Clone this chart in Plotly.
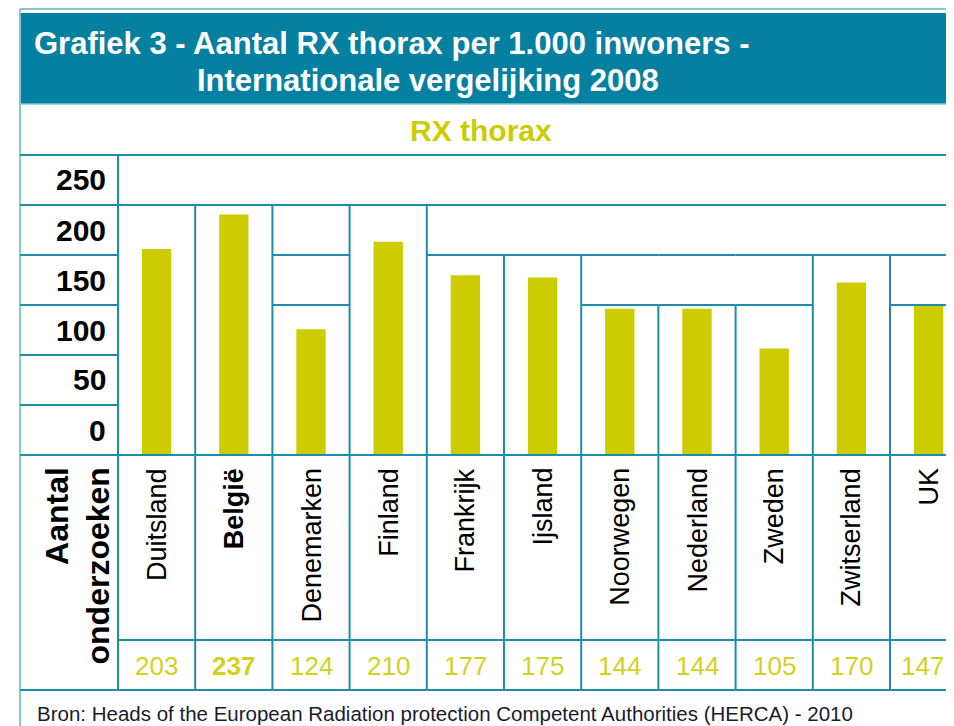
import plotly.graph_objects as go

# ---------------- data ----------------
countries = ["Duitsland", "België", "Denemarken", "Finland", "Frankrijk", "Ijsland",
             "Noorwegen", "Nederland", "Zweden", "Zwitserland", "UK"]
values = [203, 237, 124, 210, 177, 175, 144, 144, 105, 170, 147]
highlight = "België"
row_labels = ["250", "200", "150", "100", "50", "0"]
title_line1 = "Grafiek 3 - Aantal RX thorax per 1.000 inwoners -"
title_line2 = "Internationale vergelijking 2008"
subtitle = "RX thorax"
row_header = "Aantal<br>onderzoeken"
source = "Bron: Heads of the European Radiation protection Competent Authorities (HERCA) - 2010"

# ---------------- layout geometry (page pixels) ----------------
PAGE_W, PAGE_H = 954, 726
OFFSET = 8                       # default page margin of the html body
FIG_W, FIG_H = PAGE_W - 2 * OFFSET, PAGE_H - OFFSET
BASE_PX = 455                    # page row of value 0
PX_PER_UNIT = 1.015              # pixels per value unit
COL_X0 = 118                     # left edge of first data column
COL_W = 77.2                     # column width
LEFT = 20
ROW_LINES = [205, 255, 305, 355, 405]
LABEL_TOP, ROW_H = 155, 50
TABLE_BOTTOM = 690
VALUE_ROW_TOP = 640
RIGHT = PAGE_W + 5
EDGE_SHIFT = -6                  # keep the last, partly visible column's number inside the view

GRID = "#1c8eab"
LIGHT = "#86c6d3"
BAND = "#0580a1"
YELLOW_BAR = "#cccc00"
YELLOW_TXT = "#d2d21e"
SANS = "Liberation Sans, Arial, sans-serif"


def xp(x):
    return (x - OFFSET) / FIG_W


def yp(y):
    return 1 - (y - OFFSET) / FIG_H


def val_px(v):
    return BASE_PX - v * PX_PER_UNIT


shapes = []


def line(x0, y0, x1, y1, color=GRID, width=2):
    shapes.append(dict(type="line", xref="paper", yref="paper",
                       x0=xp(x0), y0=yp(y0), x1=xp(x1), y1=yp(y1),
                       line=dict(color=color, width=width), layer="above"))


# frame / title band
shapes.append(dict(type="rect", xref="paper", yref="paper", x0=xp(LEFT), x1=xp(RIGHT),
                   y0=yp(104), y1=yp(13), fillcolor=BAND, line=dict(width=0), layer="below"))
line(LEFT, 9, RIGHT, 9, LIGHT, 2)
line(LEFT, 9, LEFT, PAGE_H + 5, LIGHT, 2)
line(LEFT, 104, RIGHT, 104, LIGHT, 1.5)
line(LEFT, LABEL_TOP, RIGHT, LABEL_TOP)
for r in ROW_LINES:
    line(LEFT, r, COL_X0, r)
line(COL_X0, ROW_LINES[0], RIGHT, ROW_LINES[0])
line(LEFT, BASE_PX, RIGHT, BASE_PX)
line(COL_X0, LABEL_TOP, COL_X0, TABLE_BOTTOM)
line(COL_X0, VALUE_ROW_TOP, RIGHT, VALUE_ROW_TOP)
line(LEFT, TABLE_BOTTOM, RIGHT, TABLE_BOTTOM)


# grid segments drawn only above each bar
def lowest_line(v):
    above = [r for r in ROW_LINES if val_px(v) > r]
    return max(above)


for i, v in enumerate(values):
    cl, cr = COL_X0 + i * COL_W, COL_X0 + (i + 1) * COL_W
    for r in ROW_LINES[1:]:
        if val_px(v) > r:
            line(cl, r, min(cr, RIGHT), r)
for i in range(len(values)):
    xb = COL_X0 + (i + 1) * COL_W
    if i + 1 < len(values):
        top = min(lowest_line(values[i]), lowest_line(values[i + 1]))
    else:
        top = lowest_line(values[i])
    line(xb, top, xb, TABLE_BOTTOM)

fig = go.Figure(go.Bar(x=countries, y=values, width=0.38,
                       marker=dict(color=YELLOW_BAR, line=dict(width=0)),
                       hoverinfo="x+y"))

ann = []
ann.append(dict(text=title_line1, x=xp(32), y=yp(43), xanchor="left", yanchor="middle",
                font=dict(family=SANS, size=31, color="white", weight="bold")))
ann.append(dict(text=title_line2, x=xp(195), y=yp(80), xanchor="left", yanchor="middle",
                font=dict(family=SANS, size=31, color="white", weight="bold")))
ann.append(dict(text=subtitle, x=xp(481), y=yp(131), xanchor="center", yanchor="middle",
                font=dict(family=SANS, size=30, color=YELLOW_BAR, weight="bold")))
for k, lab in enumerate(row_labels):
    ann.append(dict(text=lab, x=xp(108), y=yp(LABEL_TOP + ROW_H * (k + 0.5)),
                    xanchor="right", yanchor="middle",
                    font=dict(family=SANS, size=30, color="black", weight="bold")))
ann.append(dict(text=row_header, x=xp(77), y=yp(466), xanchor="center", yanchor="top",
                textangle=-90, align="right",
                font=dict(family=SANS, size=32, color="black", weight="bold")))
for i, (c, v) in enumerate(zip(countries, values)):
    w = "bold" if c == highlight else "normal"
    ann.append(dict(text=c, x=c, xref="x", y=yp(466), yref="paper", xanchor="center",
                    yanchor="top", textangle=-90,
                    font=dict(family=SANS, size=27, color="black", weight=w)))
    ann.append(dict(text=str(v), x=c, xref="x", y=yp(666), yref="paper", xanchor="center",
                    yanchor="middle", xshift=EDGE_SHIFT if i == len(values) - 1 else 0,
                    font=dict(family=SANS, size=26, color=YELLOW_TXT, weight=w)))
ann.append(dict(text=source, x=xp(35), y=yp(713), xanchor="left", yanchor="middle",
                font=dict(family=SANS, size=20.5, color="#1b1b2e")))

for a in ann:
    a.setdefault("xref", "paper")
    a.setdefault("yref", "paper")
    a["showarrow"] = False

fig.update_layout(
    width=FIG_W, height=FIG_H,
    margin=dict(l=0, r=0, t=0, b=0),
    paper_bgcolor="white", plot_bgcolor="white",
    showlegend=False,
    shapes=shapes, annotations=ann,
    xaxis=dict(range=[-0.5 - (COL_X0 - OFFSET) / COL_W, -0.5 + (OFFSET + FIG_W - COL_X0) / COL_W],
               visible=False, fixedrange=True),
    yaxis=dict(range=[-(OFFSET + FIG_H - BASE_PX) / PX_PER_UNIT, (BASE_PX - OFFSET) / PX_PER_UNIT],
               visible=False, fixedrange=True),
)

fig.write_html("out.html")
